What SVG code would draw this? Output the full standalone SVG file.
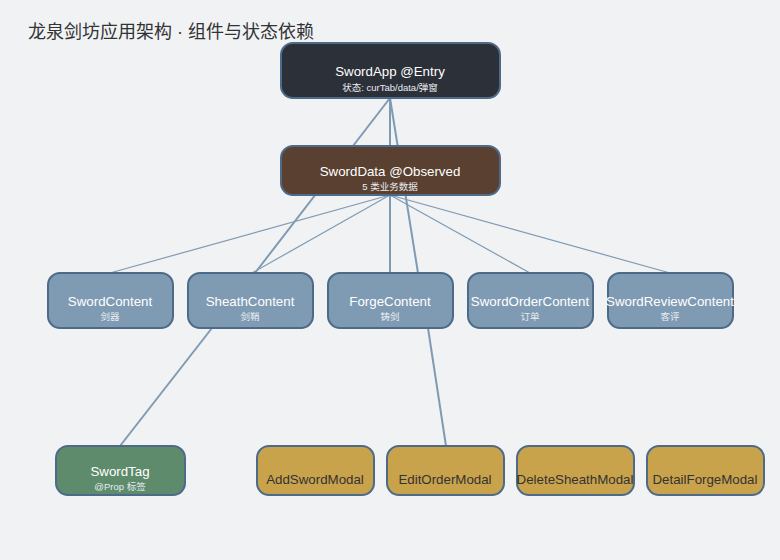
<svg xmlns="http://www.w3.org/2000/svg" width="780" height="560" viewBox="0 0 780 560">
<style>
text{font-family:"Liberation Sans","Noto Sans CJK SC",sans-serif;text-anchor:middle}
.title{font-size:18px;fill:#333;text-anchor:start}
.n{stroke:#4d6a88;stroke-width:2}
.main{font-size:13.3px;fill:#fff}
.sub{font-size:9.5px;fill:#e8edf2}
.dark{font-size:13.3px;fill:#333}
.c{stroke:#7f9bb3;fill:none}
.c1{stroke-width:1.2}
.c2{stroke-width:2}
</style>
<rect width="780" height="560" fill="#f0f2f4"/>
<text class="title" x="28" y="38">龙泉剑坊应用架构 · 组件与状态依赖</text>
<g id="connectors">
<line class="c c2" x1="390" y1="98" x2="390" y2="146"/>
<line class="c c2" x1="390" y1="98" x2="255" y2="273"/>
<line class="c c2" x1="390" y1="98" x2="418" y2="273"/>
<line class="c c1" x1="390" y1="195" x2="110" y2="273"/>
<line class="c c1" x1="390" y1="195" x2="252" y2="273"/>
<line class="c c2" x1="390" y1="195" x2="390" y2="273"/>
<line class="c c1" x1="390" y1="195" x2="530" y2="273"/>
<line class="c c1" x1="390" y1="195" x2="670" y2="273"/>
<line class="c c2" x1="212" y1="328" x2="120" y2="446"/>
<line class="c c2" x1="428" y1="328" x2="446" y2="446"/>
</g>
<g id="SwordApp">
<rect class="n" x="281" y="43" width="219" height="55" rx="12" fill="#2c3039"/>
<text class="main" x="390" y="76">SwordApp @Entry</text>
<text class="sub" x="390" y="91">状态: curTab/data/弹窗</text>
</g>
<g id="SwordData">
<rect class="n" x="281" y="146" width="219" height="49" rx="12" fill="#5a4030"/>
<text class="main" x="390" y="176">SwordData @Observed</text>
<text class="sub" x="390" y="190">5 类业务数据</text>
</g>
<g id="SwordContent">
<rect class="n" x="48" y="273" width="125" height="55" rx="12" fill="#7f9bb3"/>
<text class="main" x="110" y="306">SwordContent</text>
<text class="sub" x="110" y="320">剑器</text>
</g>
<g id="SheathContent">
<rect class="n" x="188" y="273" width="125" height="55" rx="12" fill="#7f9bb3"/>
<text class="main" x="250" y="306">SheathContent</text>
<text class="sub" x="250" y="320">剑鞘</text>
</g>
<g id="ForgeContent">
<rect class="n" x="328" y="273" width="125" height="55" rx="12" fill="#7f9bb3"/>
<text class="main" x="390" y="306">ForgeContent</text>
<text class="sub" x="390" y="320">铸剑</text>
</g>
<g id="SwordOrderContent">
<rect class="n" x="468" y="273" width="125" height="55" rx="12" fill="#7f9bb3"/>
<text class="main" x="530" y="306">SwordOrderContent</text>
<text class="sub" x="530" y="320">订单</text>
</g>
<g id="SwordReviewContent">
<rect class="n" x="608" y="273" width="125" height="55" rx="12" fill="#7f9bb3"/>
<text class="main" x="670" y="306">SwordReviewContent</text>
<text class="sub" x="670" y="320">客评</text>
</g>
<g id="SwordTag">
<rect class="n" x="56" y="446" width="129" height="49" rx="12" fill="#5e8b6c"/>
<text class="main" x="120" y="476">SwordTag</text>
<text class="sub" x="120" y="490">@Prop 标签</text>
</g>
<g id="AddSwordModal">
<rect class="n" x="257" y="446" width="117" height="49" rx="12" fill="#c9a24c"/>
<text class="dark" x="315" y="484">AddSwordModal</text>
</g>
<g id="EditOrderModal">
<rect class="n" x="387" y="446" width="117" height="49" rx="12" fill="#c9a24c"/>
<text class="dark" x="445" y="484">EditOrderModal</text>
</g>
<g id="DeleteSheathModal">
<rect class="n" x="517" y="446" width="117" height="49" rx="12" fill="#c9a24c"/>
<text class="dark" x="575" y="484">DeleteSheathModal</text>
</g>
<g id="DetailForgeModal">
<rect class="n" x="647" y="446" width="117" height="49" rx="12" fill="#c9a24c"/>
<text class="dark" x="705" y="484">DetailForgeModal</text>
</g>
</svg>
